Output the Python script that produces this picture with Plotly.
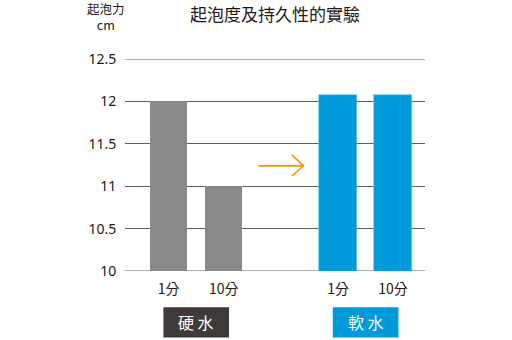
import plotly.graph_objects as go

# Foam height (cm) after 1 and 10 minutes, hard vs soft water
time_labels = ["1分", "10分", "1分", "10分"]
hard_values = [12.0, 11.0]
soft_values = [12.08, 12.08]
group_labels = ["硬 水", "軟 水"]
y_ticks = [10, 10.5, 11, 11.5, 12, 12.5]
y_tick_text = ["10", "10.5", "11", "11.5", "12", "12.5"]

# slot positions of the four bars along the x axis
hard_pos = [0, 1]
soft_pos = [3.08, 4.08]

GRAY = "#898989"
BLUE = "#009ADB"
DARK = "#3E3A39"
ORANGE = "#F39800"
GRID = "#5f5f5f"
FONT = "Noto Sans, Noto Sans CJK TC, sans-serif"
CJK = "Noto Sans CJK TC, sans-serif"

fig = go.Figure()
fig.add_bar(x=hard_pos, y=hard_values, width=0.68, marker=dict(color=GRAY, line=dict(width=0)),
            showlegend=False)
fig.add_bar(x=soft_pos, y=soft_values, width=0.68, marker=dict(color=BLUE, line=dict(color="#6cc4ec", width=0.6)),
            showlegend=False)

fig.update_layout(
    width=512, height=340,
    margin=dict(l=125, r=87, t=59, b=69),
    paper_bgcolor="white", plot_bgcolor="white",
    font=dict(family=FONT, size=14, color="#231815"),
    bargap=0,
    title=dict(text="起泡度及持久性的實驗", x=0.5, xref="paper", y=1 - 15 / 340, yref="container",
               xanchor="center", yanchor="middle", font=dict(family=CJK, size=17, color="#231815")),
    xaxis=dict(range=[-0.795, 4.66], tickvals=hard_pos + soft_pos, ticktext=time_labels,
               showgrid=False, zeroline=False, showline=False,
               ticks="outside", ticklen=5, tickcolor="rgba(0,0,0,0)",
               tickfont=dict(family=CJK, size=14, color="#231815")),
    yaxis=dict(range=[10, 12.5], tickvals=y_ticks, ticktext=y_tick_text,
               showgrid=True, gridcolor=GRID, gridwidth=1.2, zeroline=False, showline=False,
               ticks="outside", ticklen=5, tickcolor="rgba(0,0,0,0)",
               tickfont=dict(family=FONT, size=14, color="#231815")),
)

# baseline and top line so the range edges always show a rule
for yv in (y_ticks[0], y_ticks[-1]):
    fig.add_shape(type="line", xref="paper", yref="y", x0=0, x1=1, y0=yv, y1=yv,
                  line=dict(color=GRID, width=1.2), layer="below")

# axis caption (unit on the second line)
fig.add_annotation(text="起泡力<br>cm", xref="paper", yref="paper", x=-0.063, y=1 + 43 / 212,
                   showarrow=False, font=dict(family=CJK, size=12.5, color="#231815"),
                   xanchor="center", yanchor="middle", align="center")

# orange open arrow between the groups
ax0, ax1, ay = 1.63, 2.45, 11.24
fig.add_shape(type="path", xref="x", yref="y",
              path=f"M {ax0},{ay} L {ax1},{ay}", line=dict(color=ORANGE, width=1.6))
fig.add_shape(type="path", xref="x", yref="y",
              path=f"M {ax1 - 0.21},{ay + 0.13} L {ax1},{ay} L {ax1 - 0.21},{ay - 0.12}",
              line=dict(color=ORANGE, width=1.6))

# group label boxes under each pair of bars
for label, pos, color in zip(group_labels, (hard_pos, soft_pos), (DARK, BLUE)):
    mid = sum(pos) / 2
    fig.add_shape(type="rect", xref="x", yref="paper", x0=mid - 0.597, x1=mid + 0.597,
                  y0=-0.314, y1=-0.171, fillcolor=color, line=dict(width=0))
    fig.add_annotation(text=label, xref="x", yref="paper", x=mid, y=-0.2425, showarrow=False,
                       font=dict(family=CJK, size=16, color="white"), xanchor="center", yanchor="middle")

fig.write_html("out.html")
